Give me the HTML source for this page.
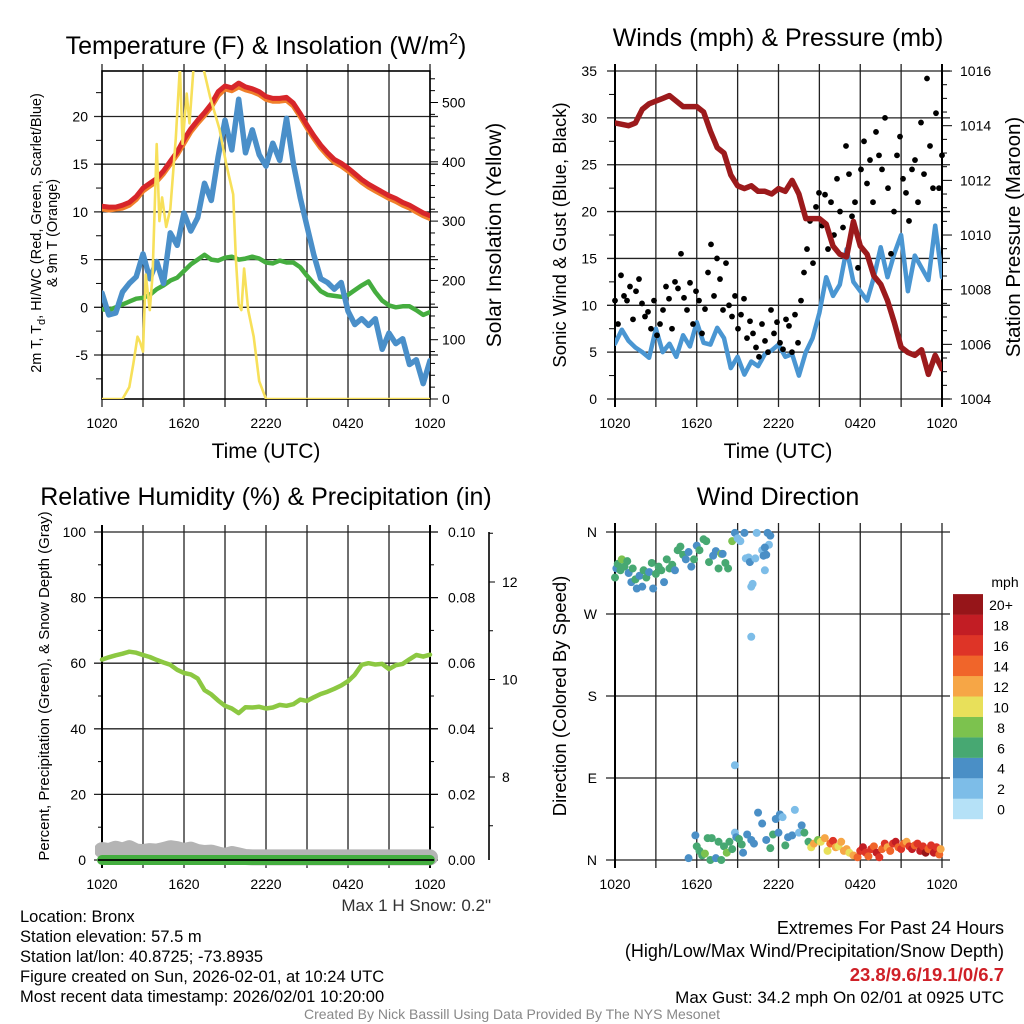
<!DOCTYPE html>
<html><head><meta charset="utf-8"><style>
html,body{margin:0;padding:0;background:#fff;}
svg{display:block;font-family:"Liberation Sans",Arial,sans-serif;}
</style></head><body>
<svg id="fig" width="1024" height="1024" viewBox="0 0 1024 1024">
<defs>
<clipPath id="c1"><rect x="102" y="71" width="328" height="328"/></clipPath>
<clipPath id="c2"><rect x="615" y="71" width="327" height="328"/></clipPath>
<clipPath id="c3"><rect x="95" y="525" width="345" height="345"/></clipPath>
</defs>
<g font-size="25" text-anchor="middle" fill="#000">
<text x="266" y="54">Temperature (F) &amp; Insolation (W/m<tspan dy="-10" font-size="16">2</tspan><tspan dy="10">)</tspan></text>
<text x="778" y="46">Winds (mph) &amp; Pressure (mb)</text>
<text x="266" y="505">Relative Humidity (%) &amp; Precipitation (in)</text>
<text x="778" y="505">Wind Direction</text>
</g>
<g font-size="21" text-anchor="middle">
<text x="266" y="458">Time (UTC)</text>
<text x="778" y="458">Time (UTC)</text>
<text transform="translate(501,235) rotate(-90)">Solar Insolation (Yellow)</text>
<text transform="translate(1020,237) rotate(-90)" font-size="20.5">Station Pressure (Maroon)</text>
</g>
<g font-size="18.5" text-anchor="middle">
<text transform="translate(566,235) rotate(-90)">Sonic Wind &amp; Gust (Blue, Black)</text>
<text transform="translate(566,696) rotate(-90)">Direction (Colored By Speed)</text>
</g>
<g font-size="14.5" text-anchor="middle">
<text transform="translate(41,233) rotate(-90)">2m T, T<tspan dy="4" font-size="11">d</tspan><tspan dy="-4">, HI/WC (Red, Green, Scarlet/Blue)</tspan></text>
<text transform="translate(57,233) rotate(-90)">&amp; 9m T (Orange)</text>
<text transform="translate(49,686) rotate(-90)" font-size="15">Percent, Precipitation (Green), &amp; Snow Depth (Gray)</text>
</g>
<g id="layer"></g>
<g font-size="16.5" fill="#000">
<text x="491" y="911" text-anchor="end" fill="#333" font-size="17">Max 1 H Snow: 0.2"</text>
<text x="20" y="922">Location: Bronx</text>
<text x="20" y="942">Station elevation: 57.5 m</text>
<text x="20" y="962">Station lat/lon: 40.8725; -73.8935</text>
<text x="20" y="982">Figure created on Sun, 2026-02-01, at 10:24 UTC</text>
<text x="20" y="1002">Most recent data timestamp: 2026/02/01 10:20:00</text>
<text x="1004" y="934" text-anchor="end" font-size="18">Extremes For Past 24 Hours</text>
<text x="1004" y="957" text-anchor="end" font-size="18">(High/Low/Max Wind/Precipitation/Snow Depth)</text>
<text x="1004" y="981" text-anchor="end" font-size="18.5" font-weight="bold" fill="#cf2027">23.8/9.6/19.1/0/6.7</text>
<text x="1004" y="1003" text-anchor="end" font-size="17">Max Gust: 34.2 mph On 02/01 at 0925 UTC</text>
<text x="512" y="1019" text-anchor="middle" font-size="14" fill="#888">Created By Nick Bassill Using Data Provided By The NYS Mesonet</text>
</g>
</svg>
<script>
// ---- data (half-hour steps from 1020 UTC) ----
const xLabels = ["1020","1620","2220","0420","1020"];
const tempRed = [10.6,10.5,10.5,10.7,11.0,11.6,12.5,13.0,13.5,14.3,15.3,16.3,17.6,18.7,19.6,20.4,21.3,22.6,23.2,23.0,23.5,23.1,22.9,22.6,22.1,21.9,21.9,22.0,21.4,20.3,19.1,18.0,17.0,16.2,15.5,15.1,14.6,14.0,13.4,12.9,12.5,12.1,11.7,11.4,11.0,10.7,10.3,9.9,9.6];
const tempOrange = [10.3,10.2,10.3,10.4,10.7,11.3,12.2,12.7,13.2,14.0,15.0,16.0,17.2,18.4,19.3,20.1,21.0,22.2,22.9,22.7,23.1,22.8,22.6,22.3,21.8,21.6,21.6,21.7,21.1,20.0,18.8,17.7,16.7,15.9,15.2,14.8,14.3,13.7,13.1,12.6,12.2,11.8,11.4,11.1,10.7,10.4,10.0,9.6,9.3];
const dewGreen = [-0.2,-0.3,0.0,0.3,0.6,0.9,1.0,1.3,1.9,2.3,2.8,3.1,3.8,4.5,5.0,5.5,5.0,4.9,5.2,5.3,5.0,5.1,5.3,5.1,4.7,4.6,4.9,4.7,4.7,4.2,3.3,2.5,1.7,1.3,1.2,1.1,1.3,1.8,2.3,2.7,1.6,0.7,0.2,0.0,0.1,0.1,-0.3,-0.8,-0.5];
const chillBlue = [1.5,-0.8,-0.6,1.6,2.5,3.2,5.6,3.0,4.8,2.5,7.8,6.5,9.9,8.0,9.4,13.0,11.2,15.8,19.6,16.5,21.8,16.2,18.6,16.0,14.8,17.2,15.4,19.8,15.1,11.5,8.5,5.5,3.0,2.6,1.9,2.6,-0.4,-1.8,-1.2,-1.9,-1.2,-4.4,-2.7,-3.8,-3.3,-6.0,-5.5,-8.0,-5.6];
const solarTimes = [0,1.5,2.0,2.3,2.6,2.8,3.0,3.2,3.5,3.7,4.0,4.2,4.4,4.7,5.0,5.4,5.7,5.9,6.2,6.4,6.7,7.4,7.9,8.6,9.1,9.6,9.8,10.0,10.2,10.4,10.7,11.1,11.5,12.0,24];
const solarVals = [0,0,20,60,105,95,80,210,150,210,430,300,340,290,320,440,560,430,515,465,560,560,510,455,395,345,235,160,150,220,150,105,30,0,0];
const windSpeed = [5.9,7.4,6.2,5.5,5.0,4.4,7.5,5.0,5.9,4.5,6.8,5.6,8.2,6.0,5.8,7.6,6.5,3.3,4.5,2.6,4.0,3.5,4.8,5.2,5.8,4.5,4.8,2.5,5.0,6.5,9.2,13.0,11.0,12.2,16.0,12.5,11.5,10.5,13.0,16.2,13.0,15.5,17.5,11.5,15.3,14.0,12.7,18.5,13.0];
const pressure = [1014.1,1014.05,1014.0,1014.1,1014.6,1014.8,1014.9,1015.0,1015.1,1014.9,1014.7,1014.7,1014.7,1014.5,1013.8,1013.2,1013.0,1012.2,1011.8,1011.7,1011.8,1011.6,1011.6,1011.5,1011.7,1011.6,1012.0,1011.5,1010.6,1010.6,1010.6,1010.4,1009.6,1009.3,1009.2,1010.5,1009.6,1009.3,1008.5,1008.2,1007.6,1006.8,1005.9,1005.7,1005.6,1005.8,1004.9,1005.6,1005.1];
const gusts = [10.5,8.0,13.2,11.0,10.5,12.0,8.5,11.5,12.8,10.2,8.8,9.3,7.5,10.5,6.8,8.0,9.5,12.0,10.7,7.5,12.5,11.8,15.5,10.8,9.5,12.4,8.0,11.5,10.5,7.0,9.6,13.5,16.5,11.0,15.0,12.8,9.5,14.5,10.0,8.8,11.0,7.5,9.0,10.7,6.5,8.3,7.0,5.5,4.5,8.0,6.2,5.0,9.5,7.0,8.2,6.0,5.3,8.5,7.8,5.0,9.0,6.0,10.5,13.5,16.0,19.0,14.5,20.5,22.0,18.5,21.8,16.0,21.0,17.5,23.5,20.0,18.3,27.0,24.0,19.5,21.0,14.0,24.5,27.5,23.0,25.5,21.0,28.5,26.0,24.5,30.0,22.5,15.5,20.0,26.0,28.0,23.5,22.0,19.0,24.5,25.5,21.0,29.5,24.0,34.2,27.0,22.5,30.5,22.5,26.0];
const rh = [61.1,61.8,62.4,62.9,63.5,63.2,62.5,61.9,61.0,60.2,59.5,58.0,57.0,56.6,55.3,51.8,50.5,48.6,47.0,46.2,44.8,46.6,46.5,46.7,46.2,46.5,47.3,47.0,47.5,48.9,48.5,49.6,50.6,51.3,52.2,53.2,54.5,56.5,59.5,60.0,59.6,59.8,58.2,59.4,59.8,61.2,62.5,62.0,62.6];
const precip = [0,0,0,0,0,0,0,0,0,0,0,0,0,0,0,0,0,0,0,0,0,0,0,0,0,0,0,0,0,0,0,0,0,0,0,0,0,0,0,0,0,0,0,0,0,0,0,0,0];
const snowDepth = [6.50,6.48,6.53,6.49,6.54,6.47,6.46,6.48,6.47,6.50,6.54,6.52,6.48,6.51,6.46,6.44,6.45,6.41,6.38,6.42,6.39,6.36,6.35,6.35,6.35,6.35,6.35,6.35,6.35,6.35,6.35,6.35,6.35,6.35,6.35,6.35,6.35,6.35,6.35,6.35,6.35,6.35,6.35,6.35,6.35,6.35,6.35,6.35,6.35];
const dirTimes = [0,0.1,0.2,0.4,0.5,0.7,0.9,1.0,1.2,1.3,1.5,1.6,1.8,2.0,2.1,2.3,2.5,2.7,2.8,3.0,3.2,3.4,3.6,3.8,4.0,4.2,4.4,4.6,4.8,5.0,5.2,5.4,5.6,5.8,6.0,6.2,6.5,6.7,6.9,7.2,7.4,7.6,7.8,7.9,8.1,8.3,8.6,8.8,9.0,9.2,9.5,9.6,9.8,9.9,10.0,10.1,10.3,10.4,10.8,11.0,11.1,11.2,11.3,11.4,11.0,10.9,10.0,8.8,
5.4,5.9,6.0,6.2,6.4,6.6,6.8,7.0,7.1,7.4,7.6,7.8,8.0,8.2,8.4,8.6,8.8,8.9,9.1,9.3,9.4,9.7,10.0,10.2,10.5,10.8,11.1,11.4,11.6,11.8,12.0,12.1,12.3,12.5,12.7,13.0,13.2,13.5,13.7,13.9,14.2,14.4,14.6,14.9,15.1,15.4,15.6,15.8,16.0,16.2,16.4,16.6,16.8,17.0,17.2,17.5,17.8,18.0,18.2,18.4,18.6,18.8,19.0,19.2,19.4,19.6,19.8,20.0,20.2,20.4,20.6,20.8,21.0,21.2,21.4,21.6,21.8,22.0,22.2,22.4,22.6,22.8,23.0,23.2,23.4,23.6,23.8,23.9];
const dirDegrees = [310,320,325,318,330,322,328,315,305,320,308,298,312,300,318,310,316,326,298,314,322,318,305,330,320,324,318,340,344,335,330,338,322,330,345,340,352,350,327,334,339,320,336,336,326,320,350,359,353,350,359,331,332,327,300,303,331,359,340,318,335,359,346,356,343,334,245,104,
2,27,15,10,5,7,24,0,24,2,20,0,15,8,20,12,30,25,23,17,8,28,22,18,52,40,22,13,28,45,30,50,47,16,25,27,55,30,38,30,20,14,18,22,20,24,10,18,21,14,15,20,10,12,8,5,3,10,14,8,4,12,15,8,3,12,18,14,10,18,20,14,12,18,20,15,12,16,18,10,15,8,12,16,8,14,6,12];
const dirSpeeds = [6,5,7,6,8,6,7,5,5,6,6,4,5,4,6,6,5,6,4,6,7,6,4,7,6,6,5,6,6,6,4,5,5,6,5,6,6,6,6,4,5,6,9,4,6,6,8,4,2,2,4,2,2,4,2,2,2,2,2,2,4,4,2,4,4,4,2,2,
4,4,6,6,6,8,6,6,6,4,6,6,6,8,6,6,2,4,6,6,4,4,4,4,4,4,4,6,6,4,4,4,2,6,4,4,2,2,4,6,6,10,12,8,10,12,10,14,16,12,10,12,12,12,10,12,14,16,18,16,14,16,14,18,16,14,16,12,14,16,18,14,16,14,12,16,18,14,16,18,16,20,14,16,18,16,14,12];
const speedColors = ["#b5e1f7","#7dbde8","#4a8fc6","#47a872","#7cc24e","#e8e05a","#f6a646","#f0652a","#de3427","#c21d24","#961519"];
const speedLabels = ["0","2","4","6","8","10","12","14","16","18","20+"];

// ---- helpers ----
const NS="http://www.w3.org/2000/svg";
const layer=document.getElementById('layer');
function mk(tag,attrs,parent){const e=document.createElementNS(NS,tag);for(const k in attrs)e.setAttribute(k,attrs[k]);(parent||layer).appendChild(e);return e;}
function txt(x,y,s,anchor,size,parent){const e=mk('text',{x:x,y:y,'text-anchor':anchor,'font-size':size||14},parent);e.textContent=s;return e;}
const halfHours=rh.map((_,i)=>i*0.5);

function panelFrame(name,x0,x1,y0,y1,xs,gridY){
  const g=mk('g',{});
  
  
  for(let t=0;t<=24;t+=3){const x=xs(t);mk('line',{x1:x,x2:x,y1:y0-7,y2:y1+8,stroke:'#222','stroke-width':1.3},g);}
  gridY.forEach(y=>mk('line',{x1:x0-8,x2:x1+8,y1:y,y2:y,stroke:'#222','stroke-width':1.3},g));
  for(let i=0;i<5;i++){const l=txt(xs(i*6),y1+29,xLabels[i],'middle',14,g);}
  return g;
}
function line(parent,xsArr,ysArr,color,w,clip,name){
  const d=xsArr.map((x,i)=>(i?'L':'M')+x.toFixed(1)+','+ysArr[i].toFixed(1)).join('');
  const p=mk('path',{d:d,fill:'none',stroke:color,'stroke-width':w,'stroke-linejoin':'round','stroke-linecap':'round','clip-path':'url(#'+clip+')'},parent);
  
  
  return p;
}

// ---- Panel 1: temperature ----
const x1s=t=>102+t*13.667;
const yT=v=>355-(v+5)*9.54;
const yS=v=>399-v*0.593;
const g1=panelFrame('temperature',102,430,71,399,x1s,[-5,0,5,10,15,20].map(yT));
mk('rect',{x:102,y:71,width:328,height:328,fill:'none',stroke:'#000','stroke-width':1.6},g1);
[-5,0,5,10,15,20].forEach(v=>txt(88,yT(v)+5,String(v),'end',14,g1));
for(let v=-7.5;v<=22.5;v+=5)mk('line',{x1:96,x2:102,y1:yT(v),y2:yT(v),stroke:'#000'},g1);
for(let v=0;v<=540;v+=20){const y=yS(v);mk('line',{x1:430,x2:v%100?435:438,y1:y,y2:y,stroke:'#000'},g1);}
[0,100,200,300,400,500].forEach(v=>txt(442,yS(v)+5,String(v),'start',14,g1));
line(g1,halfHours.map(x1s),tempOrange.map(yT),'#f07f2a',5,'c1','temperature-9m-line');
line(g1,halfHours.map(x1s),tempRed.map(yT),'#d7262a',5,'c1','temperature-2m-line');
line(g1,halfHours.map(x1s),dewGreen.map(yT),'#45ad3f',4.5,'c1','dewpoint-line');
line(g1,halfHours.map(x1s),chillBlue.map(yT),'#4a8fc9',5.5,'c1','windchill-line');
line(g1,solarTimes.map(x1s),solarVals.map(yS),'#f7e05a',2.6,'c1','solar-insolation-line');

// ---- Panel 2: winds & pressure ----
const x2s=t=>615+t*13.625;
const yW=v=>399-v*9.371;
const yP=v=>399-(v-1004)*27.33;
const g2=panelFrame('winds',615,942,71,399,x2s,[0,5,10,15,20,25,30,35].map(yW));
mk('line',{x1:615,x2:615,y1:64,y2:407,stroke:'#000','stroke-width':2},g2);
mk('line',{x1:942,x2:942,y1:64,y2:407,stroke:'#000','stroke-width':2},g2);
[0,5,10,15,20,25,30,35].forEach(v=>txt(597,yW(v)+5,String(v),'end',14,g2));
for(let v=2.5;v<35;v+=5)mk('line',{x1:609,x2:615,y1:yW(v),y2:yW(v),stroke:'#000'},g2);
for(let v=1004;v<=1016.01;v+=0.5){const y=yP(v);mk('line',{x1:942,x2:(Math.round(v*2)%4===0)?952:947,y1:y,y2:y,stroke:'#000'},g2);}
[1004,1006,1008,1010,1012,1014,1016].forEach(v=>txt(960,yP(v)+5,String(v),'start',14,g2));
line(g2,halfHours.map(x2s),windSpeed.map(yW),'#4a96d2',4.5,'c2','sonic-wind-line');
gusts.forEach((v,i)=>{
  const c=mk('circle',{cx:x2s(i*24/(gusts.length-1)),cy:yW(v),r:2.9,fill:'#000'},g2);
  
  
});
line(g2,halfHours.map(x2s),pressure.map(yP),'#9c1a1c',5.5,'c2','pressure-line');

// ---- Panel 3: RH & precip ----
const yR=v=>860-v*3.28;
const yPr=v=>860-v*3280;
const ySn=v=>582+(12-v)*48.75;
const g3=panelFrame('humidity',102,430,532,860,x1s,[0,20,40,60,80,100].map(yR));
mk('line',{x1:102,x2:102,y1:525,y2:868,stroke:'#000','stroke-width':2},g3);
mk('line',{x1:430,x2:430,y1:525,y2:868,stroke:'#000','stroke-width':2},g3);
[0,20,40,60,80,100].forEach(v=>txt(86,yR(v)+5,String(v),'end',14,g3));
for(let v=10;v<100;v+=20)mk('line',{x1:98,x2:102,y1:yR(v),y2:yR(v),stroke:'#000'},g3);
for(let v=0;v<=0.1001;v+=0.01){const y=yPr(v);mk('line',{x1:430,x2:(Math.round(v*100)%2===0)?438:434,y1:y,y2:y,stroke:'#000'},g3);}
[0,0.02,0.04,0.06,0.08,0.1].forEach(v=>txt(448,yPr(v)+5,v.toFixed(2),'start',14,g3));
mk('line',{x1:489,x2:489,y1:532,y2:860,stroke:'#000','stroke-width':1.6},g3);
for(let v=7;v<=13;v++){const y=ySn(v);mk('line',{x1:489,x2:v%2?493:495,y1:y,y2:y,stroke:'#000'},g3);}
[8,10,12].forEach(v=>txt(502,ySn(v)+5,String(v),'start',14,g3));
line(g3,halfHours.map(x1s),snowDepth.map(ySn),'#b4b4b4',16,'c3','snow-depth-line');
line(g3,halfHours.map(x1s),precip.map(yPr),'#44ae3f',10,'c3','precipitation-line');
mk('line',{x1:98,x2:434,y1:860,y2:860,stroke:'#000','stroke-width':1.8},g3);
line(g3,halfHours.map(x1s),rh.map(yR),'#8cc842',4.5,'c3','relative-humidity-line');

// ---- Panel 4: wind direction ----
const yD=v=>860-v*0.9111;
const g4=mk('g',{});


for(let t=0;t<=24;t+=3){const x=x2s(t);mk('line',{x1:x,x2:x,y1:523,y2:868,stroke:'#222','stroke-width':1.3},g4);}
[0,90,180,270,360].forEach(v=>mk('line',{x1:606,x2:950,y1:yD(v),y2:yD(v),stroke:'#222','stroke-width':1.3},g4));
mk('line',{x1:615,x2:615,y1:523,y2:868,stroke:'#000','stroke-width':2},g4);
const dirLabels=["N","E","S","W","N"];
[0,90,180,270,360].forEach((v,i)=>txt(597,yD(v)+5,dirLabels[i],'end',14,g4));
for(let i=0;i<5;i++)txt(x2s(i*6),889,xLabels[i],'middle',14,g4);
dirTimes.forEach((t,i)=>{
  const bin=Math.min(10,Math.floor(dirSpeeds[i]/2));
  const c=mk('circle',{cx:x2s(t),cy:yD(dirDegrees[i]),r:4,fill:speedColors[bin]},g4);
  
  
});
// colorbar
const cb=mk('g',{});


txt(1005,587,'mph','middle',14,cb);
speedColors.forEach((c,i)=>{
  const y=798.6-i*20.45;
  const r=mk('rect',{x:953,y:y,width:30,height:20.6,fill:c},cb);
  
  
  txt(1001,y+16,speedLabels[i],'middle',14,cb);
});
</script>
</body></html>
